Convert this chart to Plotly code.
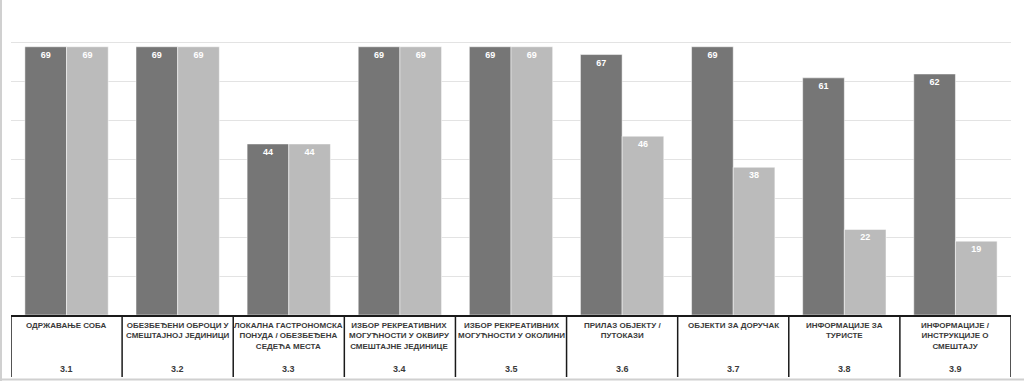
import plotly.graph_objects as go

codes = ["3.1", "3.2", "3.3", "3.4", "3.5", "3.6", "3.7", "3.8", "3.9"]
names = [
    "ОДРЖАВАЊЕ СОБА",
    "ОБЕЗБЕЂЕНИ ОБРОЦИ У<br>СМЕШТАЈНОЈ ЈЕДИНИЦИ",
    "ЛОКАЛНА ГАСТРОНОМСКА<br>ПОНУДА / ОБЕЗБЕЂЕНА<br>СЕДЕЋА МЕСТА",
    "ИЗБОР РЕКРЕАТИВНИХ<br>МОГУЋНОСТИ У ОКВИРУ<br>СМЕШТАЈНЕ ЈЕДИНИЦЕ",
    "ИЗБОР РЕКРЕАТИВНИХ<br>МОГУЋНОСТИ У ОКОЛИНИ",
    "ПРИЛАЗ ОБЈЕКТУ /<br>ПУТОКАЗИ",
    "ОБЈЕКТИ ЗА ДОРУЧАК",
    "ИНФОРМАЦИЈЕ ЗА<br>ТУРИСТЕ",
    "ИНФОРМАЦИЈЕ /<br>ИНСТРУКЦИЈЕ О<br>СМЕШТАЈУ",
]
series_a = [69, 69, 44, 69, 69, 67, 69, 61, 62]
series_b = [69, 69, 44, 69, 69, 46, 38, 22, 19]

DARK = "#767676"
LIGHT = "#BBBBBB"
TXT = "#3a3a3a"
FONT = "Liberation Sans"

W, H = 1024, 381
plot_left, plot_right = 11, 1011
plot_top, plot_bottom = 4, 315
ph = plot_bottom - plot_top


def py(pix):
    return (plot_bottom - pix) / ph


def px(pix):
    return (pix - plot_left) / (plot_right - plot_left)


fig = go.Figure()
for vals, col in [(series_a, DARK), (series_b, LIGHT)]:
    fig.add_trace(go.Bar(
        x=codes, y=vals, marker=dict(color=col, line=dict(color="rgba(255,255,255,0.5)", width=1)),
        text=vals, textposition="inside", insidetextanchor="end",
        textfont=dict(color="white", size=9, family=FONT, weight="bold"),
        textangle=0, showlegend=False, hoverinfo="skip",
    ))

annotations = []
shapes = []
for i, (c, n) in enumerate(zip(codes, names)):
    annotations.append(dict(x=i, y=py(319), xref="x", yref="paper", text="<b>" + n + "</b>",
                            showarrow=False, xanchor="center", yanchor="top", align="center",
                            font=dict(size=8, color=TXT, family=FONT)))
    annotations.append(dict(x=i, y=py(369), xref="x", yref="paper", text="<b>" + c + "</b>",
                            showarrow=False, xanchor="center", yanchor="middle",
                            font=dict(size=9, color=TXT, family=FONT)))
for i in range(len(codes) + 1):
    shapes.append(dict(type="line", xref="x", yref="paper", x0=i - 0.5, x1=i - 0.5,
                       y0=py(plot_bottom), y1=py(377), line=dict(color="#1a1a1a", width=1.5)))
# outer chart frame (left and bottom edges)
shapes.append(dict(type="line", xref="paper", yref="paper", x0=px(1), x1=px(1),
                   y0=py(0), y1=py(381), line=dict(color="#D0D0D0", width=2)))
shapes.append(dict(type="line", xref="paper", yref="paper", x0=px(0), x1=px(1024),
                   y0=py(379.5), y1=py(379.5), line=dict(color="#D0D0D0", width=2)))

fig.update_layout(
    width=W, height=H,
    margin=dict(l=plot_left, r=W - plot_right, t=plot_top, b=H - plot_bottom),
    paper_bgcolor="white", plot_bgcolor="white",
    barmode="group", bargap=0.25, bargroupgap=0,
    xaxis=dict(type="category", range=[-0.5, 8.5], showticklabels=False, ticks="",
               showline=True, linecolor="#1a1a1a", linewidth=1.5, showgrid=False),
    yaxis=dict(range=[0, 80], dtick=10, showticklabels=False, ticks="", showline=False,
               showgrid=True, gridcolor="#E3E3E3", gridwidth=1, zeroline=False),
    annotations=annotations, shapes=shapes,
)

fig.write_html("out.html", config={"displayModeBar": False},
               post_script="document.body.style.margin='0';document.body.style.overflow='hidden';")
